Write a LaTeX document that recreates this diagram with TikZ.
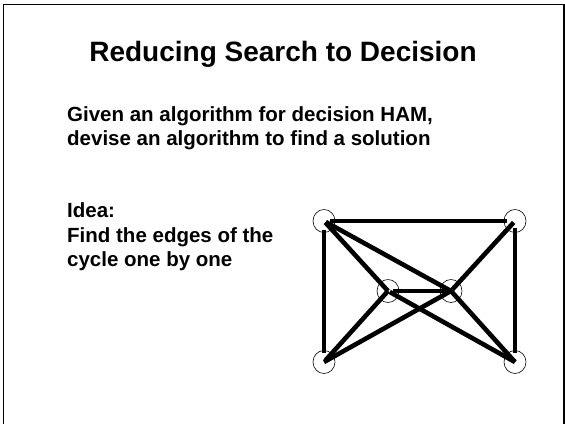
\documentclass[tikz,border=0pt]{standalone}
\usepackage{fontspec}
\setmainfont{Liberation Sans}
\usetikzlibrary{shapes.geometric}
\begin{document}
\begin{tikzpicture}[x=1pt,y=-1pt,
  vert/.style={draw,ellipse,minimum width=22pt,minimum height=23pt,inner sep=0pt,line width=0.6pt},
  edge/.style={line width=4.6pt},
  title/.style={font=\bfseries\fontsize{28}{32}\selectfont,anchor=base,inner sep=0pt},
  body/.style={font=\bfseries\fontsize{20.5}{23.5}\selectfont,anchor=base west,inner sep=0pt}]
\useasboundingbox (0,0) rectangle (565,424);
% frame
\draw[line width=1.6pt] (3.5,424) -- (3.5,4.5) -- (564,4.5) -- (564,424);
% texts
\node[title] (t) at (283,61.5) {Reducing Search to Decision};
\node[body] (l1) at (67,121.5) {Given an algorithm for decision HAM,};
\node[body] (l2) at (67,145) {devise an algorithm to find a solution};
\node[body] (l3) at (67,217.5) {Idea:};
\node[body] (l4) at (67,242) {Find the edges of the};
\node[body] (l5) at (67,266) {cycle one by one};
% vertices
\node[vert] (TL) at (324,221) {};
\node[vert] (TR) at (515,221) {};
\node[vert] (ML) at (388,291) {};
\node[vert] (MR) at (451,291) {};
\node[vert] (BL) at (324,362) {};
\node[vert] (BR) at (515,362) {};
% edges
\draw[edge,shorten <=6pt,shorten >=8pt] (TL.center) -- (TR.center);
\draw[edge,shorten <=9pt,shorten >=9pt] (TL.center) -- (BL.center);
\draw[edge,shorten <=7pt,shorten >=9pt] (TR.center) -- (BR.center);
\draw[edge,shorten <=5pt,shorten >=5pt] (ML.center) -- (MR.center);
\draw[edge,shorten <=2pt] (TL.center) -- (ML.center);
\draw[edge,shorten <=2pt] (TL.center) -- (MR.center);
\draw[edge,shorten <=2pt] (TR.center) -- (MR.center);
\draw[edge,shorten >=2pt] (ML.center) -- (BL.center);
\draw[edge] (MR.center) -- (BL.center);
\draw[edge,shorten <=2pt] (ML.center) -- (BR.center);
\draw[edge] (MR.center) -- (BR.center);
\end{tikzpicture}
\end{document}
